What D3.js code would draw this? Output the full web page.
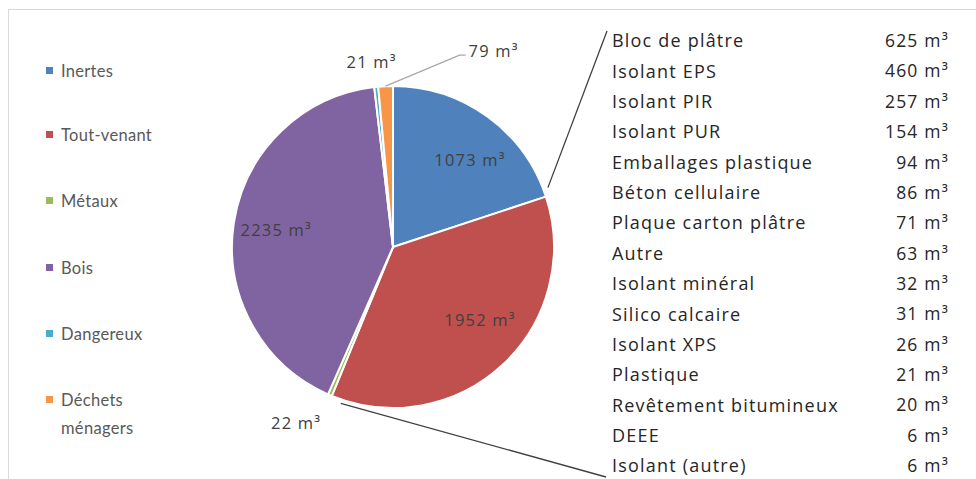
<!DOCTYPE html>
<html><head><meta charset="utf-8">
<script src="https://cdn.jsdelivr.net/npm/d3@7/dist/d3.min.js"></script>
<style>
html,body{margin:0;padding:0;background:#fff;}
svg{display:block;}
</style></head>
<body>
<svg id="chart" width="976" height="479"></svg>
<script>
const categories = ["Inertes","Tout-venant","Métaux","Bois","Dangereux","Déchets ménagers"];
const values = [1073,1952,22,2235,21,79];
const colors = ["#4f81bd","#c0504d","#9bbb59","#8064a2","#4bacc6","#f79646"];
const detailLabels = ["Bloc de plâtre","Isolant EPS","Isolant PIR","Isolant PUR","Emballages plastique","Béton cellulaire","Plaque carton plâtre","Autre","Isolant minéral","Silico calcaire","Isolant XPS","Plastique","Revêtement bitumineux","DEEE","Isolant (autre)"];
const detailValues = [625,460,257,154,94,86,71,63,32,31,26,21,20,6,6];
const unit = " m³";

const svg = d3.select("#chart");
// frame
svg.append("rect").attr("x",8.5).attr("y",9.5).attr("width",1000).attr("height",480)
  .attr("fill","none").attr("stroke","#d9d9d9").attr("stroke-width",1);

const cx = 393, cy = 247, R = 161;
const data = categories.map((c,i)=>({cat:c, value:values[i], color:colors[i]}));
const pie = d3.pie().value(d=>d.value).sort(null);
const arcs = pie(data);
const arc = d3.arc().innerRadius(0).outerRadius(R);
const g = svg.append("g").attr("transform",`translate(${cx},${cy})`);
g.selectAll("path").data(arcs).join("path")
  .attr("d",arc).attr("fill",d=>d.data.color)
  .attr("stroke","#fff").attr("stroke-width",2).attr("stroke-linejoin","round");

function pt(angle, r){ return [Math.sin(angle)*r, -Math.cos(angle)*r]; }

const labelFont = "'Open Sans', sans-serif";
const labelColor = "#404040";
const fmt = v => v + unit;
function lab(x,y,txt,anchor){
  return g.append("text").attr("x",x).attr("y",y).attr("dy","0.35em")
   .attr("text-anchor",anchor||"middle").attr("font-family",labelFont).attr("font-size",16.5)
   .attr("letter-spacing",1.2).attr("fill",labelColor).text(txt);
}

// inside labels (radius-based, small layout nudges)
const nudge = {0:[9,7],1:[8,-12],3:[-2,0]};
[0,1,3].forEach(i=>{
  const a = arcs[i];
  const c = d3.arc().innerRadius(116).outerRadius(116).centroid(a);
  lab(c[0]+nudge[i][0], c[1]+nudge[i][1], fmt(a.data.value));
});
// outside labels
{
  const a = arcs[2]; const m = (a.startAngle+a.endAngle)/2;
  const p = pt(m, 196);
  lab(p[0]-20, p[1]-4, fmt(a.data.value));
}
{
  const a = arcs[4]; const m = (a.startAngle+a.endAngle)/2;
  const p = pt(m, 186);
  lab(p[0]-2, p[1], fmt(a.data.value));
}
{
  const a = arcs[5]; const m = (a.startAngle+a.endAngle)/2;
  const p0 = pt(m, R);
  const p1 = [p0[0]+74, p0[1]-31];
  g.append("polyline").attr("points",[p0,p1,[p1[0]+6,p1[1]]].map(p=>p.join(",")).join(" "))
   .attr("fill","none").attr("stroke","#a6a6a6").attr("stroke-width",1.2);
  lab(p1[0]+9, p1[1]-4, fmt(a.data.value), "start");
}

// detail list
const listX = 612, valX = 948, y0 = 41, y1 = 466;
const yScale = d3.scalePoint().domain(detailLabels).range([y0,y1]);
const list = svg.append("g");
list.selectAll("text.lab").data(detailLabels).join("text").attr("class","lab")
  .attr("x",listX).attr("y",d=>yScale(d)).attr("dy","0.35em")
  .attr("font-family",labelFont).attr("font-size",18).attr("letter-spacing",1.2)
  .attr("fill","#262626").text(d=>d);
list.selectAll("text.val").data(detailValues).join("text").attr("class","val")
  .attr("x",valX+1).attr("y",(d,i)=>yScale(detailLabels[i])).attr("dy","0.35em")
  .attr("text-anchor","end")
  .attr("font-family",labelFont).attr("font-size",17.5).attr("letter-spacing",1.2)
  .attr("fill","#262626").text(d=>fmt(d));

// connecting lines from Tout-venant slice to list
{
  const a = arcs[1];
  const s = pt(a.startAngle, R), e = pt(a.endAngle, R+8);
  svg.append("line").attr("x1",cx+s[0]+2).attr("y1",cy+s[1]-9).attr("x2",607).attr("y2",31)
    .attr("stroke","#404040").attr("stroke-width",1.3);
  svg.append("line").attr("x1",cx+e[0]+12).attr("y1",cy+e[1]).attr("x2",606).attr("y2",477)
    .attr("stroke","#404040").attr("stroke-width",1.3);
}

// legend
const legY = [71,135,201,268,334,400];
const leg = svg.append("g");
categories.forEach((c,i)=>{
  leg.append("rect").attr("x",46).attr("y",legY[i]-4).attr("width",7).attr("height",7).attr("fill",colors[i]);
  const t = leg.append("text").attr("x",61).attr("y",legY[i]).attr("dy","0.35em")
    .attr("font-family","Lato, sans-serif").attr("font-size",16.5).attr("letter-spacing",0.3).attr("fill","#595959");
  if (c === "Déchets ménagers") {
    t.append("tspan").attr("x",61).text("Déchets");
    t.append("tspan").attr("x",61).attr("dy","1.7em").text("ménagers");
  } else t.text(c);
});
</script>
</body></html>
